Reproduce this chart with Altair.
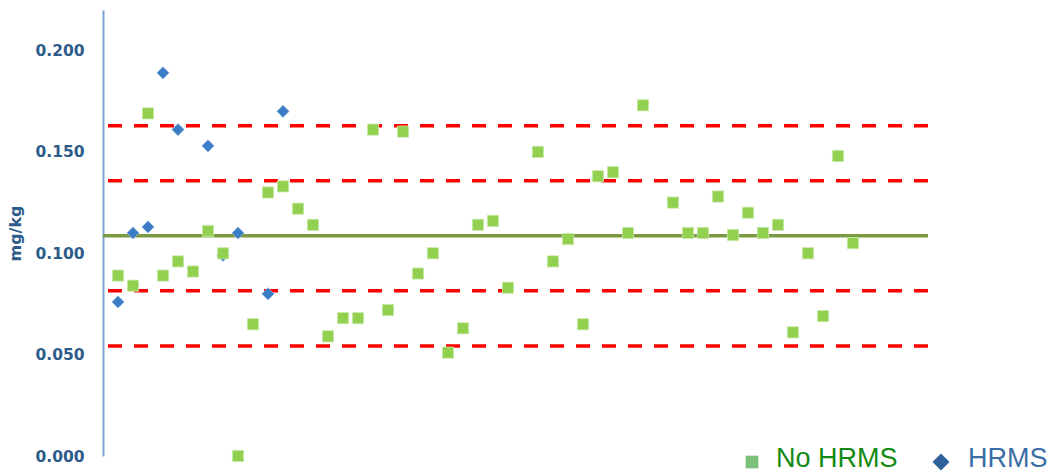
import altair as alt
import pandas as pd

# ---- data ----
no_hrms_x = [1, 2, 3, 4, 5, 6, 7, 8, 9, 10, 11, 12, 13, 14, 15, 16, 17, 18, 19, 20,
             21, 22, 23, 24, 25, 26, 27, 29, 30, 31, 32, 33, 34, 35, 36, 38, 39, 40,
             41, 42, 43, 44, 45, 46, 47, 48, 49, 50]
no_hrms_y = [0.089, 0.084, 0.169, 0.089, 0.096, 0.091, 0.111, 0.100, 0.000, 0.065,
             0.130, 0.133, 0.122, 0.114, 0.059, 0.068, 0.068, 0.161, 0.072, 0.160,
             0.090, 0.100, 0.051, 0.063, 0.114, 0.116, 0.083, 0.150, 0.096, 0.107,
             0.065, 0.138, 0.140, 0.110, 0.173, 0.125, 0.110, 0.110, 0.128, 0.109,
             0.120, 0.110, 0.114, 0.061, 0.100, 0.069, 0.148, 0.105]
hrms_x = [1, 2, 3, 4, 5, 7, 8, 9, 11, 12]
hrms_y = [0.076, 0.110, 0.113, 0.189, 0.161, 0.153, 0.099, 0.110, 0.080, 0.170]

center_value = [0.1086]
limit_values = [0.0543, 0.0815, 0.1358, 0.1629]
y_ticks = [0.0, 0.05, 0.10, 0.15, 0.20]
legend_labels = ["No HRMS", "HRMS"]

df_no = pd.DataFrame({"x": no_hrms_x, "y": no_hrms_y})
df_h = pd.DataFrame({"x": hrms_x, "y": hrms_y})
df_center = pd.DataFrame({"y": center_value})
df_limits = pd.DataFrame({"y": limit_values})

AXIS_COLOR = "#2E5C8A"

x_scale = alt.Scale(domain=[0, 55], nice=False, zero=False)
y_scale = alt.Scale(domain=[0, 0.22], nice=False)

y_axis = alt.Axis(
    title="mg/kg",
    values=y_ticks,
    format=".3f",
    grid=False,
    ticks=False,
    domainColor="#7BA3D6",
    domainWidth=2,
    labelFont="DejaVu Sans",
    labelFontWeight="bold",
    labelFontSize=15.5,
    labelColor=AXIS_COLOR,
    labelPadding=19,
    titleFont="DejaVu Sans",
    titleFontWeight="bold",
    titleFontSize=16,
    titleColor=AXIS_COLOR,
    titlePadding=11,
)

limits = alt.Chart(df_limits).mark_rule(
    color="#FF0000", strokeWidth=3.5, strokeDash=[14, 12]
).encode(y=alt.Y("y:Q", scale=y_scale, axis=y_axis))

center = alt.Chart(df_center).mark_rule(
    color="#7C9A44", strokeWidth=3.5
).encode(y=alt.Y("y:Q", scale=y_scale, axis=y_axis))

diamonds = alt.Chart(df_h).mark_point(
    shape="diamond", filled=True, size=150, color="#3B7DC4",
    stroke="#8DB4E2", strokeWidth=0.8, opacity=1
).encode(
    x=alt.X("x:Q", scale=x_scale, axis=None),
    y=alt.Y("y:Q", scale=y_scale, axis=y_axis),
)

squares = alt.Chart(df_no).mark_point(
    shape="square", filled=True, size=125, color="#92D050",
    stroke="#C9E8A8", strokeWidth=0.8, opacity=1
).encode(
    x=alt.X("x:Q", scale=x_scale, axis=None),
    y=alt.Y("y:Q", scale=y_scale, axis=y_axis),
)

# ---- legend (drawn manually, bottom right) ----
leg_df = pd.DataFrame({"label": legend_labels})
leg_sq = alt.Chart(leg_df).transform_filter(alt.datum.label == "No HRMS").mark_point(
    shape="square", filled=True, size=160, color="#7DC07A", opacity=1
).encode(x=alt.value(649), y=alt.value(452))
leg_sq_txt = alt.Chart(leg_df).transform_filter(alt.datum.label == "No HRMS").mark_text(
    align="left", baseline="middle", font="Liberation Sans", fontSize=27, color="#138A13"
).encode(x=alt.value(673), y=alt.value(449), text="label:N")
leg_di = alt.Chart(leg_df).transform_filter(alt.datum.label == "HRMS").mark_point(
    shape="diamond", filled=True, size=290, color="#2E6099", opacity=1
).encode(x=alt.value(838), y=alt.value(452))
leg_di_txt = alt.Chart(leg_df).transform_filter(alt.datum.label == "HRMS").mark_text(
    align="left", baseline="middle", font="Liberation Sans", fontSize=27, color="#3A6EA5"
).encode(x=alt.value(865), y=alt.value(449), text="label:N")

chart = alt.layer(
    limits, center, diamonds, squares, leg_sq, leg_sq_txt, leg_di, leg_di_txt
).properties(
    width=825,
    height=446,
    autosize=alt.AutoSizeParams(type="none"),
    padding={"left": 103, "top": 10, "right": 131, "bottom": 19},
    background="white",
).configure_view(stroke=None)

chart.save("out.html", embed_options={"renderer": "svg", "actions": False})
